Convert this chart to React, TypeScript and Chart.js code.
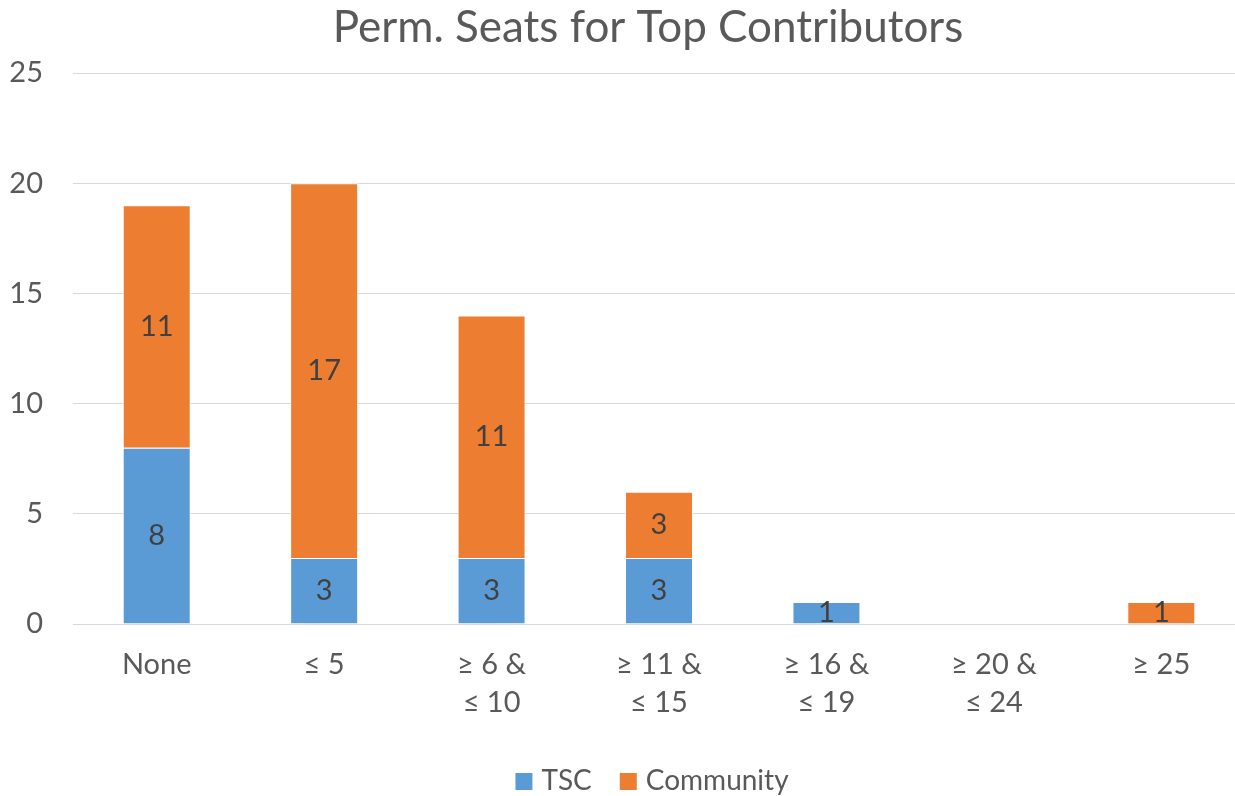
import React, { useEffect, useRef } from "react";
import { Chart, registerables } from "chart.js";

Chart.register(...registerables);

const titleText = "Perm. Seats for Top Contributors";
const categories: (string | string[])[] = [
  "None",
  "≤ 5",
  ["≥ 6 &", "≤ 10"],
  ["≥ 11 &", "≤ 15"],
  ["≥ 16 &", "≤ 19"],
  ["≥ 20 &", "≤ 24"],
  "≥ 25",
];
const seriesNames = ["TSC", "Community"];
const tscValues = [8, 3, 3, 3, 1, 0, 0];
const communityValues = [11, 17, 11, 3, 0, 0, 1];
const yTicks = [0, 5, 10, 15, 20, 25];

const FONT = "Lato";
const TEXT = "#595959";
const COLORS = ["#5B9BD5", "#ED7D31"];
const CANVAS_W = 1245;
const CANVAS_H = 796;

const dataLabels = {
  id: "dataLabels",
  afterDatasetsDraw(chart: any) {
    const ctx = chart.ctx;
    ctx.save();
    ctx.font = `29px ${FONT}`;
    ctx.fillStyle = "#404040";
    ctx.textAlign = "center";
    ctx.textBaseline = "middle";
    chart.data.datasets.forEach((ds: any, i: number) => {
      const meta = chart.getDatasetMeta(i);
      meta.data.forEach((el: any, j: number) => {
        const v = ds.data[j];
        if (!v) return;
        ctx.fillText(String(v), el.x, (el.y + el.base) / 2);
      });
    });
    ctx.restore();
  },
};

const titleAndLegend = {
  id: "titleAndLegend",
  afterDraw(chart: any) {
    const ctx = chart.ctx;
    ctx.save();
    // title
    ctx.font = `44px ${FONT}`;
    ctx.fillStyle = TEXT;
    ctx.textAlign = "center";
    ctx.textBaseline = "alphabetic";
    ctx.fillText(titleText, 648, 42);
    // legend
    ctx.font = `28px ${FONT}`;
    const box = 17;
    const gapBoxText = 9;
    const gapItems = 28;
    const items = chart.data.datasets.map((d: any) => ({
      label: d.label,
      color: d.backgroundColor,
      w: ctx.measureText(d.label).width,
    }));
    const total =
      items.reduce((a: number, it: any) => a + box + gapBoxText + it.w, 0) +
      gapItems * (items.length - 1);
    let x = 652 - total / 2;
    ctx.textAlign = "left";
    items.forEach((it: any) => {
      ctx.fillStyle = it.color;
      ctx.fillRect(x, 773, box, box);
      x += box + gapBoxText;
      ctx.fillStyle = TEXT;
      ctx.fillText(it.label, x, 790);
      x += it.w + gapItems;
    });
    ctx.restore();
  },
};

export default function App() {
  const ref = useRef<HTMLCanvasElement>(null);
  useEffect(() => {
    document.body.style.margin = "0";
    document.body.style.overflow = "hidden";
    const chart = new Chart(ref.current!, {
      type: "bar",
      data: {
        labels: categories as any,
        datasets: [
          {
            label: seriesNames[0],
            data: tscValues,
            backgroundColor: COLORS[0],
            borderColor: "#ffffff",
            borderWidth: 1,
          },
          {
            label: seriesNames[1],
            data: communityValues,
            backgroundColor: COLORS[1],
            borderColor: "#ffffff",
            borderWidth: 1,
          },
        ],
      },
      options: {
        responsive: false,
        animation: false,
        layout: { padding: { left: 0, right: 0, top: 73, bottom: 0 } },
        datasets: {
          bar: { barPercentage: 0.406, categoryPercentage: 1 },
        } as any,
        plugins: {
          title: { display: false },
          legend: { display: false },
          tooltip: { enabled: false },
        },
        scales: {
          x: {
            stacked: true,
            grid: { display: false },
            border: { display: true, color: "#d9d9d9", width: 1 },
            ticks: {
              color: TEXT,
              font: { family: FONT, size: 29, lineHeight: 1.3 },
              maxRotation: 0,
              autoSkip: false,
              padding: 14,
            },
            afterFit: (s: any) => {
              s.height = 172;
            },
          },
          y: {
            stacked: true,
            min: 0,
            max: 25,
            afterBuildTicks: (s: any) => {
              s.ticks = yTicks.map((v) => ({ value: v }));
            },
            grid: { color: "#d9d9d9", drawTicks: false, lineWidth: 1 },
            border: { display: false },
            ticks: {
              color: TEXT,
              font: { family: FONT, size: 29 },
              padding: 30,
            },
            afterFit: (s: any) => {
              s.width = 73;
            },
          },
        },
      },
      plugins: [dataLabels, titleAndLegend],
    });
    return () => chart.destroy();
  }, []);
  return (
    <div
      style={{
        position: "relative",
        width: CANVAS_W,
        height: CANVAS_H,
      }}
    >
      <canvas ref={ref} width={CANVAS_W} height={CANVAS_H} />
    </div>
  );
}
